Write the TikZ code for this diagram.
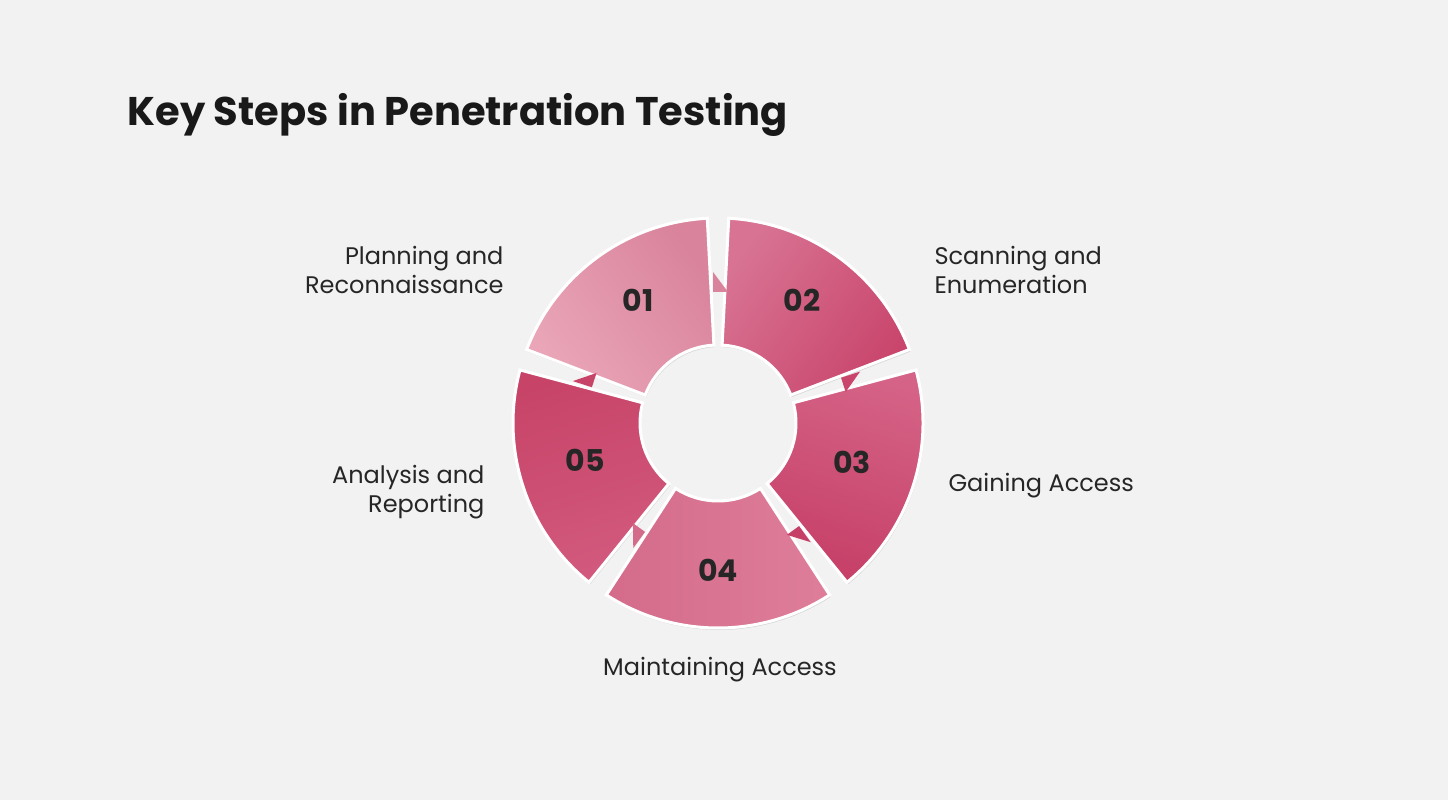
\documentclass[tikz,border=0pt]{standalone}
\usepackage{fontspec}
\setmainfont{Poppins}
\usetikzlibrary{shadows}
\begin{document}
\begin{tikzpicture}[x=1pt,y=1pt,
  seg/.style={draw=white,line width=3pt,drop shadow={opacity=0.25,shadow xshift=1pt,shadow yshift=-2pt}},
  num/.style={font=\fontsize{30}{30}\selectfont\bfseries,text=black!85},
  lbl/.style={font=\fontsize{24}{29}\selectfont\mdseries,text=black!85}]
\fill[black!5] (0,0) rectangle (1448,800);
\useasboundingbox (0,0) rectangle (1448,800);
\node[anchor=west,font=\fontsize{40}{40}\selectfont\bfseries,text=black!90] (title) at (124,685) {Key Steps in Penetration Testing};
\definecolor{c1a}{HTML}{EAA6B8}\definecolor{c1b}{HTML}{D9839C}
\definecolor{c2a}{HTML}{D87393}\definecolor{c2b}{HTML}{C9456C}
\definecolor{c3a}{HTML}{D56387}\definecolor{c3b}{HTML}{C63F67}
\definecolor{c4a}{HTML}{DE7E9A}\definecolor{c4b}{HTML}{D46B8B}
\definecolor{c5a}{HTML}{D25A7E}\definecolor{c5b}{HTML}{C74468}
\begin{scope}[shift={(718,377)}]
\foreach \i/\ca/\cb in {1/c1a/c1b,2/c2a/c2b,3/c3a/c3b,4/c4a/c4b,5/c5a/c5b}{
  \pgfmathsetmacro\m{126-72*(\i-1)}
  \pgfmathsetmacro\a{\m+33}\pgfmathsetmacro\b{\m-33}
  \path[seg,left color=\ca,right color=\cb,shading angle=\m] (\a:205) arc (\a:\b:205) -- (\b:78) arc (\b:\a:78) -- cycle;
}
\foreach \i/\cb in {1/c1b,2/c2b,3/c3b,4/c4b,5/c5b}{
  \pgfmathsetmacro\g{126-72*(\i-1)-36}
  \fill[\cb] (\g:141) ++(\g+90:5) ++(\g:10) -- ++(\g+180:20) -- ++(\g-90:15) -- cycle;
}
\end{scope}
\node[num] (n1) at (638,500) {01};
\node[num] (n2) at (802,500) {02};
\node[num] (n3) at (852,338) {03};
\node[num] (n4) at (718,230) {04};
\node[num] (n5) at (585,340) {05};
\node[lbl,anchor=east,align=right] (l1) at (507,530) {Planning and\\Reconnaissance};
\node[lbl,anchor=west,align=left] (l2) at (931,530) {Scanning and\\Enumeration};
\node[lbl,anchor=west] (l3) at (945,314) {Gaining Access};
\node[lbl] (l4) at (720,130) {Maintaining Access};
\node[lbl,anchor=east,align=right] (l5) at (488,308) {Analysis and\\Reporting};
\end{tikzpicture}
\end{document}
